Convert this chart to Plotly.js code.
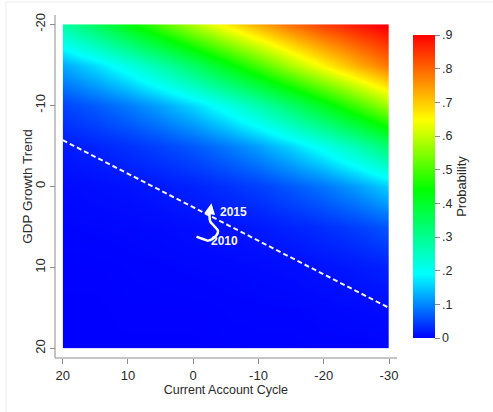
<!DOCTYPE html>
<html>
<head>
<meta charset="utf-8">
<script src="https://cdn.plot.ly/plotly-3.0.1.min.js"></script>
<style>html,body{margin:0;padding:0;background:#fff}#chart{width:493px;height:412px}</style>
</head>
<body>
<div id="chart"></div>
<script>
// Current Account Cycle (x) and GDP Growth Trend (y) grid
const caValues = [20, 15, 10, 5, 0, -5, -10, -15, -20, -25, -30];
const gdpValues = [-20, -15, -10, -5, 0, 5, 10, 15, 20];
// Probability (rows follow gdpValues)
const probGdpM20 = [0.279, 0.349, 0.426, 0.506, 0.587, 0.663, 0.731, 0.790, 0.839, 0.878, 0.909];
const probGdpM15 = [0.125, 0.165, 0.214, 0.274, 0.343, 0.419, 0.500, 0.581, 0.657, 0.726, 0.786];
const probGdpM10 = [0.050, 0.068, 0.091, 0.122, 0.161, 0.210, 0.269, 0.337, 0.413, 0.494, 0.574];
const probGdpM5  = [0.019, 0.026, 0.036, 0.049, 0.066, 0.089, 0.119, 0.158, 0.206, 0.264, 0.332];
const probGdp0   = [0.007, 0.010, 0.013, 0.018, 0.025, 0.035, 0.047, 0.065, 0.087, 0.117, 0.155];
const probGdp5   = [0.003, 0.004, 0.005, 0.007, 0.010, 0.013, 0.018, 0.025, 0.034, 0.046, 0.063];
const probGdp10  = [0.001, 0.001, 0.002, 0.003, 0.004, 0.005, 0.007, 0.009, 0.013, 0.018, 0.024];
const probGdp15  = [0.000, 0.000, 0.001, 0.001, 0.001, 0.002, 0.003, 0.003, 0.005, 0.007, 0.009];
const probGdp20  = [0.000, 0.000, 0.000, 0.000, 0.000, 0.001, 0.001, 0.001, 0.002, 0.002, 0.003];
// Threshold (dashed) line end points
const thresholdCA = [20, -30];
const thresholdGDP = [-5.7, 15.0];
// Trajectory 2010 -> 2015
const pathCA = [-0.5, -1.5, -2.3, -3.5, -3.8, -3.2, -2.6, -2.5, -2.6];
const pathGDP = [6.2, 6.5, 6.7, 6.1, 5.5, 4.9, 4.3, 3.5, 2.9];
const arrowHead = {ca: -2.8, gdp: 2.1};
const labels = [{text: '2015', ca: -3.8, gdp: 3.2}, {text: '2010', ca: -2.4, gdp: 6.7}];
// Tick labels
const xTickVals = [20, 10, 0, -10, -20, -30];
const xTickText = ['20', '10', '0', '-10', '-20', '-30'];
const yTickVals = [-20, -10, 0, 10, 20];
const yTickText = ['-20', '-10', '0', '10', '20'];
const cbTickVals = [0, 0.1, 0.2, 0.3, 0.4, 0.5, 0.6, 0.7, 0.8, 0.9];
const cbTickText = ['0', '.1', '.2', '.3', '.4', '.5', '.6', '.7', '.8', '.9'];

const zGrid = [probGdpM20, probGdpM15, probGdpM10, probGdpM5, probGdp0, probGdp5, probGdp10, probGdp15, probGdp20];

const FONT = 'Arial, Liberation Sans, sans-serif';
const TXT = '#2a2a2a';
const AX = '#8a8a8a';

const traces = [
  {
    type: 'heatmap', x: caValues, y: gdpValues, z: zGrid,
    zsmooth: 'best', zmin: 0, zmax: 0.9,
    colorscale: [[0, 'rgb(0,0,255)'], [0.21, 'rgb(0,255,255)'], [0.49, 'rgb(0,255,0)'], [0.72, 'rgb(255,255,0)'], [1, 'rgb(255,0,0)']],
    hoverinfo: 'skip',
    colorbar: {
      x: 1.0728, xanchor: 'left', y: 0.5, yanchor: 'middle',
      len: 303, lenmode: 'pixels', thickness: 22, thicknessmode: 'pixels',
      outlinewidth: 0, xpad: 0, ypad: 0,
      tickvals: cbTickVals, ticktext: cbTickText,
      ticks: 'outside', ticklen: 5, tickcolor: AX, tickwidth: 1,
      tickfont: {family: FONT, size: 12.5, color: TXT},
      title: {text: 'Probability', side: 'right', font: {family: FONT, size: 13, color: TXT}}
    }
  },
  {
    type: 'scatter', mode: 'lines', x: thresholdCA, y: thresholdGDP,
    line: {color: 'rgba(255,255,255,0.95)', width: 2, dash: '5px,3px'}, hoverinfo: 'skip'
  },
  {
    type: 'scatter', mode: 'lines', x: pathCA, y: pathGDP,
    line: {color: '#ffffff', width: 2.5, shape: 'spline'}, hoverinfo: 'skip'
  }
];

const annotations = labels.map(l => ({
  x: l.ca, y: l.gdp, xref: 'x', yref: 'y', text: '<b>' + l.text + '</b>',
  showarrow: false, xanchor: 'left', yanchor: 'middle',
  font: {family: FONT, size: 12, color: '#f4f6ff'}
}));
annotations.push({
  x: arrowHead.ca, y: arrowHead.gdp, xref: 'x', yref: 'y',
  ax: pathCA[pathCA.length - 2], ay: pathGDP[pathGDP.length - 2], axref: 'x', ayref: 'y',
  text: '', showarrow: true, arrowhead: 2, arrowsize: 1, arrowwidth: 2.2, arrowcolor: '#ffffff'
});
// y-axis title placed at the reference position
annotations.push({
  x: -0.083, y: 0.5, xref: 'paper', yref: 'paper', text: 'GDP Growth Trend', textangle: -90,
  showarrow: false, xanchor: 'center', yanchor: 'middle',
  font: {family: FONT, size: 13.5, color: TXT}
});

const layout = {
  width: 493, height: 412,
  margin: {l: 55, r: 104, t: 15, b: 54, pad: 0},
  paper_bgcolor: '#ffffff', plot_bgcolor: '#ffffff',
  showlegend: false,
  font: {family: FONT, size: 12, color: TXT},
  xaxis: {
    domain: [0.023, 1], range: [20, -30], anchor: 'free', position: 0,
    tickvals: xTickVals, ticktext: xTickText,
    ticks: 'outside', ticklen: 5, tickcolor: AX, tickwidth: 1,
    showgrid: false, zeroline: false, showline: false,
    tickfont: {family: FONT, size: 13, color: TXT},
    title: {text: 'Current Account Cycle', font: {family: FONT, size: 12.5, color: TXT}, standoff: 3}
  },
  yaxis: {
    domain: [0.028, 0.973], range: [20, -20], anchor: 'free', position: 0,
    tickvals: yTickVals, ticktext: yTickText, tickangle: -90,
    ticks: 'outside', ticklen: 5, tickcolor: AX, tickwidth: 1,
    showgrid: false, zeroline: false, showline: false,
    tickfont: {family: FONT, size: 13, color: TXT}
  },
  shapes: [
    {type: 'line', xref: 'paper', yref: 'paper', x0: 0, x1: 0, y0: 0, y1: 1, line: {color: AX, width: 1}},
    {type: 'line', xref: 'paper', yref: 'paper', x0: 0, x1: 1.024, y0: 0, y1: 0, line: {color: AX, width: 1}},
    {type: 'line', xref: 'paper', yref: 'paper', x0: -0.147, x1: 1.32, y0: 1.038, y1: 1.038, line: {color: '#ececec', width: 1}},
    {type: 'line', xref: 'paper', yref: 'paper', x0: -0.147, x1: -0.147, y0: -0.16, y1: 1.038, line: {color: '#ececec', width: 1}}
  ],
  annotations: annotations
};

Plotly.newPlot('chart', traces, layout, {displayModeBar: false, staticPlot: true});
</script>
</body>
</html>
